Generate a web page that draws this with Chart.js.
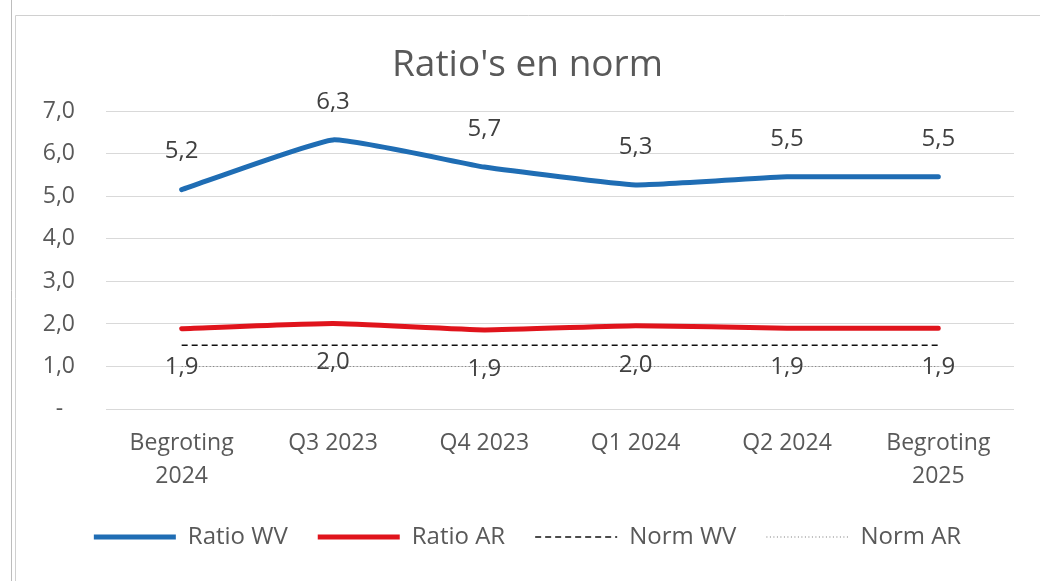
<!DOCTYPE html>
<html>
<head>
<meta charset="utf-8">
<script src="https://cdn.jsdelivr.net/npm/chart.js@4.4.1/dist/chart.umd.min.js"></script>
<style>
  html, body { margin: 0; padding: 0; background: #ffffff; }
  #wrap { width: 1040px; height: 581px; position: relative; }
</style>
</head>
<body>
<div id="wrap"><canvas id="c" width="1040" height="581"></canvas></div>
<script>
const categories = [['Begroting', '2024'], 'Q3 2023', 'Q4 2023', 'Q1 2024', 'Q2 2024', ['Begroting', '2025']];
const ratioWV = [5.16, 6.33, 5.69, 5.27, 5.46, 5.46];
const ratioAR = [1.89, 2.01, 1.86, 1.96, 1.90, 1.90];
const normWV = [1.5, 1.5, 1.5, 1.5, 1.5, 1.5];
const normAR = [1.0, 1.0, 1.0, 1.0, 1.0, 1.0];
const seriesNames = ['Ratio WV', 'Ratio AR', 'Norm WV', 'Norm AR'];
const yMin = 0, yMax = 7, yStep = 1;
const titleText = "Ratio's en norm";

const FONT = "'Open Sans', 'Noto Sans', sans-serif";
const TXT = '#595959';

function fmt(v) { return v.toFixed(1).replace('.', ','); }

const frame = {
  id: 'frame',
  beforeDraw(chart) {
    const ctx = chart.ctx;
    ctx.save();
    ctx.fillStyle = '#ffffff';
    ctx.fillRect(0, 0, chart.width, chart.height);
    ctx.strokeStyle = '#d0d0d0';
    ctx.lineWidth = 1;
    ctx.beginPath();
    ctx.moveTo(15.5, chart.height + 5);
    ctx.lineTo(15.5, 15.5);
    ctx.lineTo(chart.width + 5, 15.5);
    ctx.stroke();
    ctx.strokeStyle = '#bdbdbd';
    ctx.beginPath();
    ctx.moveTo(11.5, 0);
    ctx.lineTo(11.5, chart.height);
    ctx.stroke();
    ctx.restore();
  }
};

const valueLabels = {
  id: 'valueLabels',
  afterDatasetsDraw(chart) {
    const ctx = chart.ctx;
    ctx.save();
    ctx.font = "24px " + FONT;
    ctx.fillStyle = '#404040';
    ctx.textAlign = 'center';
    ctx.textBaseline = 'middle';
    [[0, -38], [1, 39]].forEach(([di, off]) => {
      const meta = chart.getDatasetMeta(di);
      const data = chart.data.datasets[di].data;
      meta.data.forEach((el, i) => {
        ctx.fillText(fmt(data[i]), el.x, el.y + off);
      });
    });
    ctx.restore();
  }
};

new Chart(document.getElementById('c'), {
  type: 'line',
  data: {
    labels: categories,
    datasets: [
      { label: seriesNames[0], data: ratioWV, borderColor: '#1f6db4', backgroundColor: '#1f6db4', borderWidth: 5, tension: 0.12, pointRadius: 0, borderCapStyle: 'round', borderJoinStyle: 'round' },
      { label: seriesNames[1], data: ratioAR, borderColor: '#e0141c', backgroundColor: '#e0141c', borderWidth: 5, tension: 0.12, pointRadius: 0, borderCapStyle: 'round', borderJoinStyle: 'round' },
      { label: seriesNames[2], data: normWV, borderColor: '#111111', backgroundColor: '#111111', borderWidth: 1.6, borderDash: [6, 4], pointRadius: 0, tension: 0 },
      { label: seriesNames[3], data: normAR, borderColor: '#777777', backgroundColor: '#777777', borderWidth: 1.2, borderDash: [1, 2.5], pointRadius: 0, tension: 0 }
    ]
  },
  options: {
    responsive: false,
    animation: false,
    devicePixelRatio: 1,
    layout: { padding: { left: 41, right: 26, top: 0, bottom: 22 } },
    plugins: {
      title: {
        display: true,
        text: titleText,
        color: TXT,
        font: { family: FONT, size: 37, weight: 'normal', lineHeight: 1.2 },
        padding: { top: 43, bottom: 24 }
      },
      legend: {
        position: 'bottom',
        labels: {
          usePointStyle: true,
          pointStyle: 'line',
          pointStyleWidth: 82,
          color: TXT,
          padding: 30,
          font: { family: FONT, size: 24 },
          generateLabels(chart) {
            return chart.data.datasets.map((ds, i) => ({
              text: ds.label,
              strokeStyle: ds.borderColor,
              fillStyle: ds.borderColor,
              lineWidth: ds.borderWidth,
              lineDash: ds.borderDash || [],
              lineCap: 'butt',
              pointStyle: 'line',
              fontColor: TXT,
              hidden: false,
              datasetIndex: i
            }));
          }
        }
      },
      tooltip: { enabled: false }
    },
    scales: {
      x: {
        offset: true,
        grid: { display: false, drawTicks: false },
        border: { display: false },
        ticks: { color: TXT, padding: 18, maxRotation: 0, autoSkip: false, font: { family: FONT, size: 23, lineHeight: '33px' } },
        afterFit(s) { s.height = 86; }
      },
      y: {
        min: yMin, max: yMax,
        grid: { color: '#d9d9d9', lineWidth: 1, drawTicks: false },
        border: { display: false },
        ticks: {
          stepSize: yStep, color: TXT, padding: 31,
          font: { family: FONT, size: 23 },
          callback: (v) => v === 0 ? '-  ' : fmt(v)
        },
        afterFit(s) { s.width = 65; }
      }
    }
  },
  plugins: [frame, valueLabels]
});
</script>
</body>
</html>
